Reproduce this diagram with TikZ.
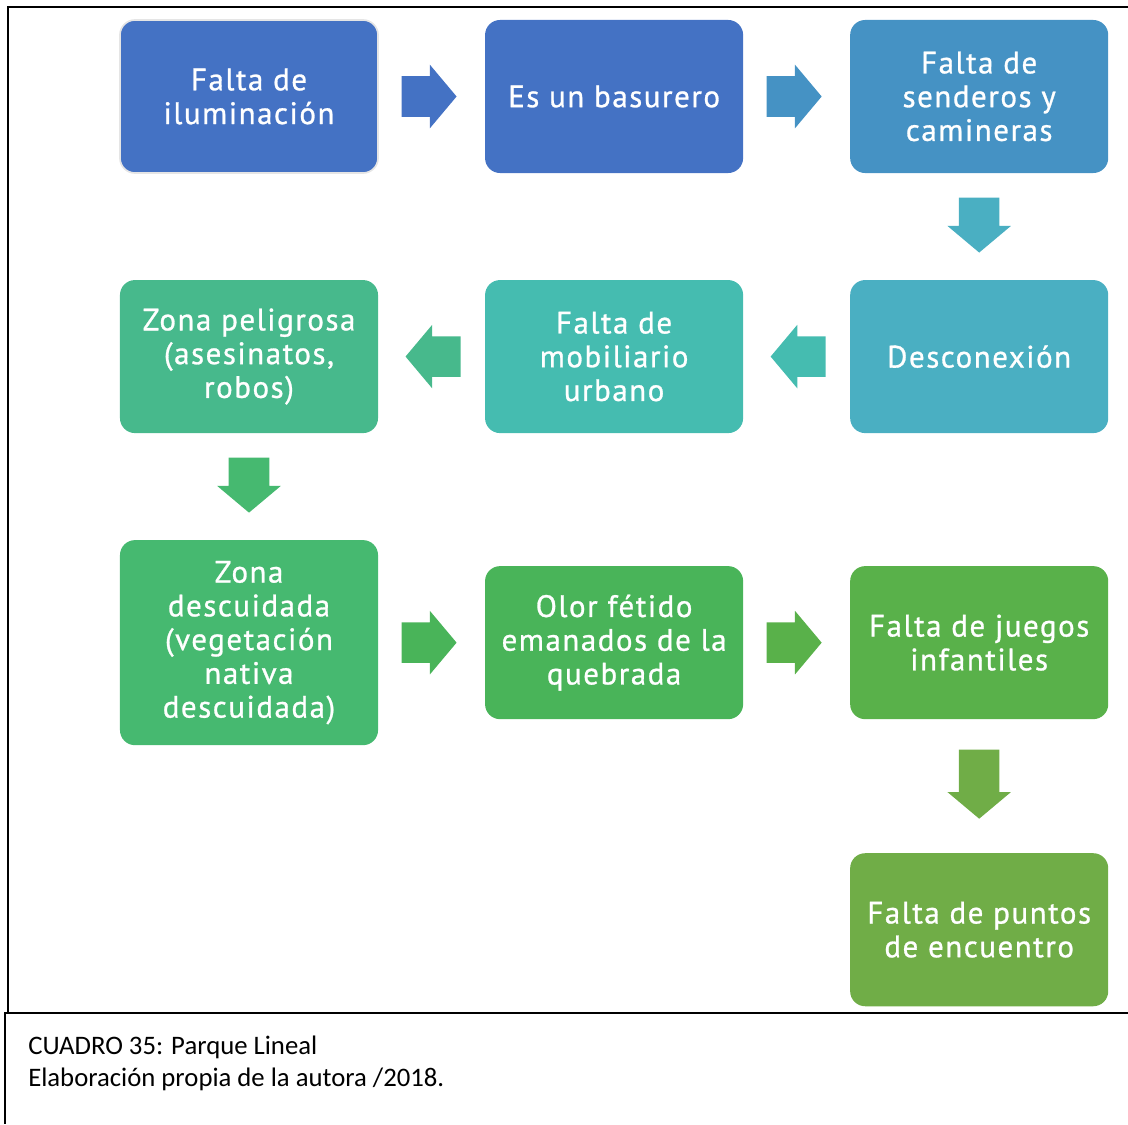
\documentclass[tikz,border=0pt]{standalone}
\usepackage{fontspec}
\setmainfont{PT Sans}
\newfontfamily\boxfont{PT Sans}[FakeBold=0.9, LetterSpace=5]
\newfontfamily\capfont{Carlito}
\usetikzlibrary{positioning, calc, shapes.arrows}

\definecolor{blueA}{HTML}{4472C4}
\definecolor{blueB}{HTML}{4592C4}
\definecolor{tealA}{HTML}{4AAFC2}
\definecolor{tealB}{HTML}{45BCB0}
\definecolor{greenA}{HTML}{47B98C}
\definecolor{greenB}{HTML}{46B970}
\definecolor{greenC}{HTML}{49B459}
\definecolor{greenD}{HTML}{59B14A}
\definecolor{greenE}{HTML}{70AD47}

\begin{document}
\begin{tikzpicture}[
    x=0.025cm, y=-0.025cm, node distance=2.675cm and 2.675cm,
    box/.style={rectangle, rounded corners=0.375cm,
                minimum width=6.45cm, minimum height=3.825cm,
                inner sep=0pt, outer sep=0pt, align=center, text=white,
                font=\boxfont\fontsize{22}{24}\selectfont},
    blk/.style={single arrow, inner xsep=0pt, inner ysep=0.5cm,
                minimum height=1.375cm, minimum width=1.575cm,
                single arrow head extend=0.2875cm,
                single arrow tip angle=100},
    frame/.style={line width=1.4pt, black},
    caption/.style={anchor=base west, inner sep=0pt,
                    font=\capfont\fontsize{19}{22}\selectfont}
]
  \useasboundingbox (0,0) rectangle (1128,1124);

  % Row 1
  \node[box, fill=blueA, draw=gray!20, line width=1.2pt] (ilum) at (249,96.5) {Falta de\\iluminación};
  \node[box, fill=blueA, right=of ilum] (basura) {Es un basurero};
  \node[box, fill=blueB, right=of basura] (sender) {Falta de\\senderos y\\camineras};

  % Row 2
  \node[box, fill=tealA, below=of sender] (descon) {Desconexión};
  \node[box, fill=tealB, left=of descon] (mobil) {Falta de\\mobiliario\\urbano};
  \node[box, fill=greenA, left=of mobil] (pelig) {Zona peligrosa\\(asesinatos,\\robos)};

  % Row 3
  \node[box, fill=greenB, minimum height=5.125cm, below=of pelig] (descu) {Zona\\descuidada\\(vegetación\\nativa\\descuidada)};
  \node[box, fill=greenC, right=of descu] (olor) {Olor fétido\\emanados de la\\quebrada};
  \node[box, fill=greenD, right=of olor] (juegos) {Falta de juegos\\infantiles};

  % Row 4
  \node[box, fill=greenE, below=3.35cm of juegos] (puntos) {Falta de puntos\\de encuentro};

  % block arrows
  \node[blk, fill=blueA] (a1) at ($(ilum.east)!0.5!(basura.west) + (-11,0)$) {};
  \node[blk, fill=blueB] (a2) at ($(basura.east)!0.5!(sender.west) + (-11,0)$) {};
  \node[blk, fill=tealA, rotate=-90] (a3) at ($(sender.south)!0.5!(descon.north) + (0,-10)$) {};
  \node[blk, fill=tealB, rotate=180] (a4) at ($(descon.west)!0.5!(mobil.east) + (10,0)$) {};
  \node[blk, fill=greenA, rotate=180] (a5) at ($(mobil.west)!0.5!(pelig.east) + (10,0)$) {};
  \node[blk, fill=greenB, rotate=-90] (a6) at ($(pelig.south)!0.5!(descu.north) + (0,-10)$) {};
  \node[blk, fill=greenC] (a7) at ($(descu.east)!0.5!(olor.west) + (-11,0)$) {};
  \node[blk, fill=greenD] (a8) at ($(olor.east)!0.5!(juegos.west) + (-11,0)$) {};
  \node[blk, fill=greenE, rotate=-90, minimum height=1.725cm] (a9) at ($(juegos.south)!0.5!(puntos.north) + (0,-10.5)$) {};

  % frame and caption
  \draw[frame] (8,1013) -- (8,7) -- (1128,7);
  \draw[frame] (4,1013) -- (1128,1013);
  \draw[frame] (5,1013) -- (5,1124);
  \node[caption] (cap1) at (28,1054) {CUADRO 35: Parque Lineal};
  \node[caption] (cap2) at (28,1086) {Elaboración propia de la autora /2018.};
\end{tikzpicture}
\end{document}
